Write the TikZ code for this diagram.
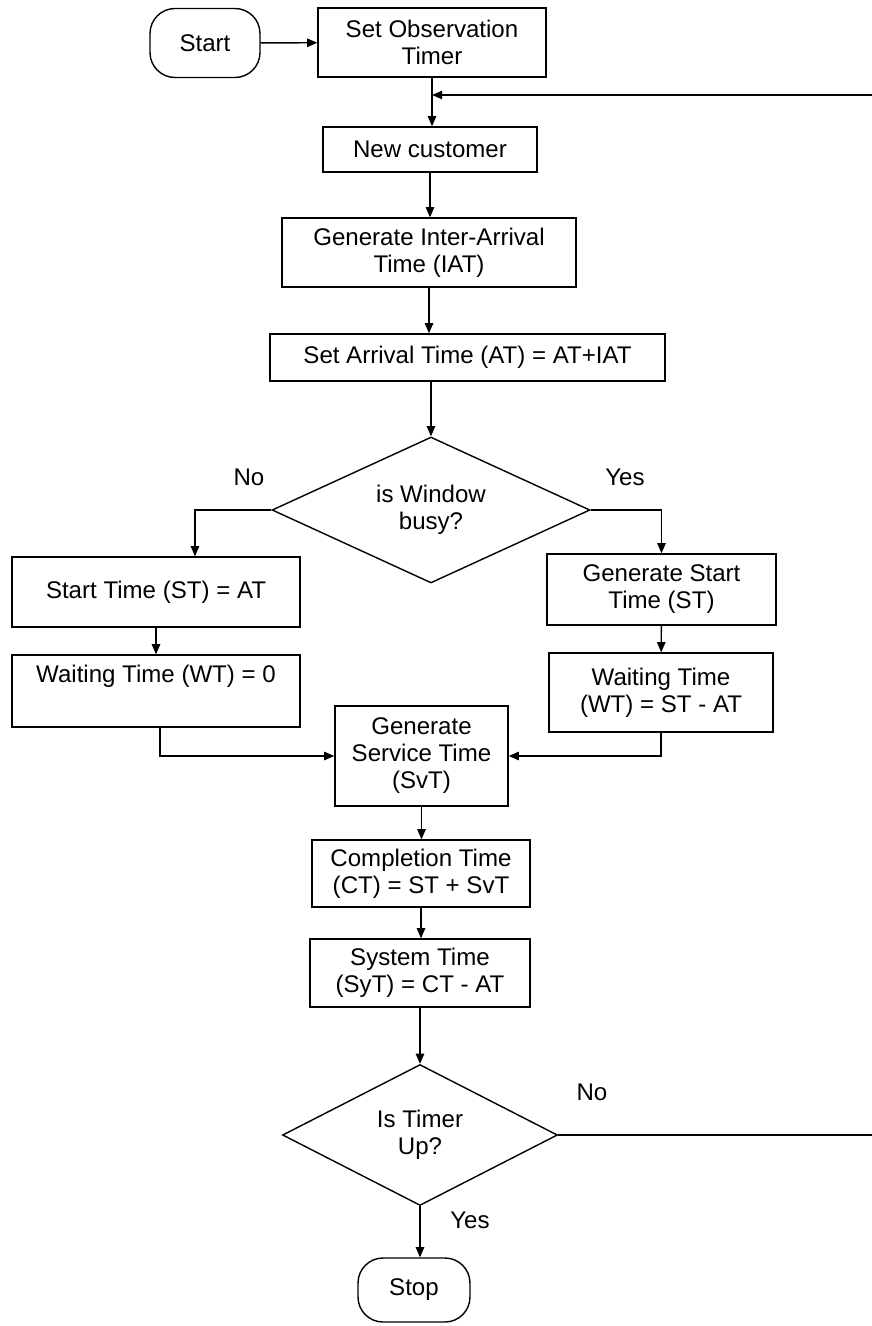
\documentclass[tikz,border=0pt]{standalone}
\usepackage{fontspec}
\setmainfont{Liberation Sans}
\usetikzlibrary{shapes.geometric,arrows.meta}

\tikzset{
  stepbox/.style={draw, line width=0.8pt, align=center, inner sep=2pt},
  termbox/.style={draw, line width=0.8pt, rounded corners=0.5cm, align=center},
  decision/.style={draw, line width=0.8pt, diamond, aspect=2.2, align=center, inner sep=0pt},
  flowlabel/.style={inner sep=0pt},
}

\begin{document}
\begin{tikzpicture}[x=0.02cm, y=-0.02cm, line width=0.8pt, >={Triangle[length=5.8pt,width=4.8pt]},
    every node/.style={font=\fontsize{13.7}{15.4}\selectfont}]
  \useasboundingbox (0,0) rectangle (872,1326);

  % boxes
  \node[termbox, minimum width=2.2cm, minimum height=1.38cm] (start) at (205,43) {Start};
  \node[stepbox, minimum width=4.56cm, minimum height=1.38cm] (obs) at (432,42.5) {Set Observation\\Timer};
  \node[stepbox, minimum width=4.28cm, minimum height=0.9cm] (newc) at (430,149.5) {New customer};
  \node[stepbox, minimum width=5.88cm, minimum height=1.38cm] (iat) at (429,252.5) {Generate Inter-Arrival\\Time (IAT)};
  \node[stepbox, minimum width=7.9cm, minimum height=0.94cm] (arr) at (467.5,357.5) {Set Arrival Time (AT) = AT+IAT};
  \node[decision, minimum width=6.36cm, minimum height=2.92cm] (busy) at (431,510) {is Window\\busy?};
  \node[stepbox, minimum width=5.76cm, minimum height=1.4cm] (st) at (156,592) {Start Time (ST) = AT};
  \node[stepbox, minimum width=5.76cm, minimum height=1.44cm] (wtz) at (156,691) {Waiting Time (WT) = 0\\\strut};
  \node[stepbox, minimum width=4.58cm, minimum height=1.42cm] (gst) at (661.5,589.5) {Generate Start\\Time (ST)};
  \node[stepbox, minimum width=4.48cm, minimum height=1.58cm] (wta) at (661,692.5) {Waiting Time\\(WT) = ST - AT};
  \node[stepbox, minimum width=3.46cm, minimum height=2cm] (svt) at (421.5,756) {Generate\\Service Time\\(SvT)};
  \node[stepbox, minimum width=4.36cm, minimum height=1.34cm] (ct) at (421,873.5) {Completion Time\\(CT) = ST + SvT};
  \node[stepbox, minimum width=4.4cm, minimum height=1.36cm] (syt) at (420,973) {System Time\\(SyT) = CT - AT};
  \node[decision, minimum width=5.5cm, minimum height=2.82cm] (timer) at (420,1135) {Is Timer\\Up?};
  \node[termbox, minimum width=2.24cm, minimum height=1.28cm] (stop) at (414,1290) {Stop};

  % labels
  \node[flowlabel] (busyno) at (249,477) {No};
  \node[flowlabel] (busyyes) at (625,477) {Yes};
  \node[flowlabel] (timerno) at (592,1092) {No};
  \node[flowlabel] (timeryes) at (470,1220) {Yes};

  % loop back
  \coordinate (ret) at (880,1135);
  \coordinate (retup) at (880,95);
  \coordinate (join) at (432,95);

  % connectors
  \draw[->] (start) -- (obs);
  \draw[->] (obs.south) -- (obs.south |- newc.north);
  \draw[->] (timer.east) -- (ret) -- (retup) -- (join);
  \draw[->] (newc.south) -- (newc.south |- iat.north);
  \draw[->] (iat.south) -- (iat.south |- arr.north);
  \draw[->] (busy.north |- arr.south) -- (busy.north);
  \draw[->] (busy.west) -| ([xshift=0.78cm]st.north);
  \draw[->] (busy.east) -| (gst.north);
  \draw[->] (st) -- (wtz);
  \draw[->] (gst) -- (wta);
  \draw[->] ([xshift=0.08cm]wtz.south) |- (svt.west);
  \draw[->] (wta.south) |- (svt.east);
  \draw[->] (svt.south) -- (svt.south |- ct.north);
  \draw[->] (ct.south) -- (ct.south |- syt.north);
  \draw[->] (syt.south) -- (syt.south |- timer.north);
  \draw[->] (timer.south) -- (timer.south |- stop.north);
\end{tikzpicture}
\end{document}
